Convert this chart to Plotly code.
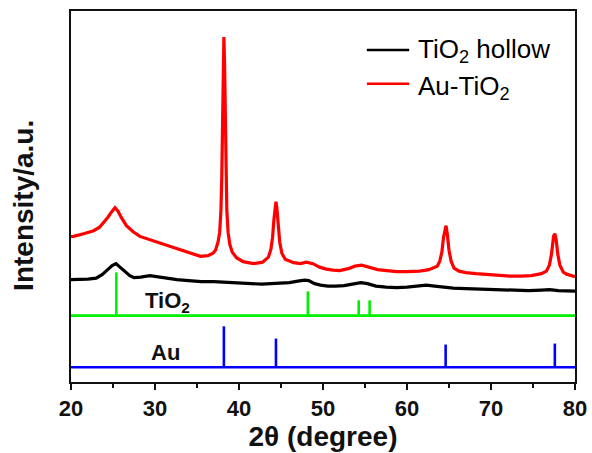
import plotly.graph_objects as go

# ---- measured patterns (2-theta in degrees, intensity in a.u.) ----
tio2_hollow_2theta = [20.0, 21.0, 22.0, 23.0, 23.7, 24.3, 24.9, 25.35, 25.8, 26.4, 27.0, 27.5,
                      28.3, 29.4, 30.5, 31.5, 32.6, 34.0, 35.5, 37.0, 38.5, 40.0, 41.5, 42.7,
                      43.8, 45.0, 46.0, 47.0, 47.8, 48.3, 49.0, 49.7, 50.6, 51.5, 52.5, 53.5,
                      54.5, 55.3, 56.3, 57.5, 58.8, 60.0, 61.2, 62.3, 63.3, 64.5, 65.5, 67.0,
                      68.5, 70.0, 71.5, 73.0, 74.5, 76.0, 77.0, 78.0, 79.0, 80.0]
tio2_hollow_int = [102.5, 102.5, 103.0, 104.0, 107.5, 112.0, 116.5, 118.5, 115.5, 110.5, 106.5, 104.5,
                   105.0, 106.5, 105.0, 103.5, 102.5, 101.5, 100.5, 100.5, 100.0, 99.0, 98.5, 98.0,
                   98.5, 99.0, 99.5, 101.0, 102.0, 101.5, 98.5, 97.0, 96.0, 96.0, 96.5, 98.0,
                   99.5, 98.5, 96.0, 95.0, 94.5, 95.0, 96.0, 97.0, 96.0, 94.5, 94.0, 93.5,
                   93.0, 92.5, 92.0, 92.0, 91.5, 92.0, 92.5, 91.5, 91.0, 91.0]

au_tio2_2theta = [20.0, 20.3, 21.5, 22.7, 23.4, 23.9, 24.4, 24.8, 25.24, 25.6, 26.0, 26.6, 27.4,
                  28.2, 29.2, 30.2, 31.4, 32.6, 34.0, 35.4, 36.3, 36.9, 37.2, 37.5, 37.7, 37.85,
                  37.95, 38.05, 38.12, 38.2, 38.28, 38.35, 38.45, 38.55, 38.7, 38.9, 39.2, 39.7,
                  40.5, 41.7, 42.8, 43.5, 43.8, 44.0, 44.15, 44.3, 44.4, 44.5, 44.65, 44.85, 45.1,
                  45.5, 46.5, 47.3, 48.0, 48.8, 49.6, 50.4, 51.2, 52.0, 53.0, 53.8, 54.6,
                  55.5, 56.5, 57.6, 58.8, 60.0, 61.5, 62.6, 63.3, 63.6, 63.9, 64.15, 64.35,
                  64.55, 64.65, 64.8, 65.0, 65.25, 65.6, 66.2, 67.0, 68.2, 69.5, 71.0, 72.3,
                  73.5, 74.8, 76.0, 76.6, 76.95, 77.2, 77.45, 77.6, 77.75, 77.95, 78.2, 78.6,
                  79.0, 79.5, 80.0]
au_tio2_int = [145.5, 145.8, 148.5, 151.5, 155.0, 159.5, 165.0, 170.0, 174.5, 171.0, 164.5, 156.5,
               150.5, 145.8, 143.0, 140.8, 137.5, 134.2, 129.5, 125.8, 126.5, 129.0, 132.0, 140.0,
               150.0, 172.0, 205.0, 265.0, 320.0, 345.5, 320.0, 265.0, 205.0, 172.0, 150.0, 138.0,
               130.0, 124.5, 120.5, 118.5, 120.0, 125.0, 133.0, 145.0, 162.0, 178.0, 180.5, 175.0,
               158.0, 140.0, 129.0, 123.0, 119.5, 118.5, 120.0, 118.5, 115.0, 113.0, 112.0, 111.5,
               113.5, 116.0, 117.0, 115.0, 112.5, 111.5, 110.5, 110.5, 111.0, 112.5, 114.5, 116.0,
               121.0, 130.0, 145.0, 156.0, 156.5, 148.0, 132.0, 121.0, 114.0, 111.0, 109.5, 108.5,
               107.5, 106.5, 106.0, 106.0, 106.5, 108.5, 111.0, 117.0, 128.0, 146.0, 148.5, 143.0,
               128.0, 117.0, 110.0, 108.0, 106.5, 105.5]

# ---- standard reference lines (stick positions and heights above their baselines) ----
tio2_ref_2theta = [25.4, 48.2, 54.25, 55.55]
tio2_ref_height = [43.3, 24.3, 15.3, 15.3]
tio2_ref_base = 66.5

au_ref_2theta = [38.2, 44.4, 64.6, 77.6]
au_ref_height = [41.0, 28.7, 22.7, 23.7]
au_ref_base = 14.8

x_range = [20, 80]
y_range = [0, 371.5]
x_ticks = [20, 30, 40, 50, 60, 70, 80]

FONT = "Liberation Sans, Arial, sans-serif"
INK = "#111111"

fig = go.Figure()


def stick_pattern(positions, heights, base, color):
    xs, ys = [x_range[0], x_range[1], None], [base, base, None]
    for p, h in zip(positions, heights):
        xs += [p, p, None]
        ys += [base, base + h, None]
    fig.add_trace(go.Scatter(x=xs, y=ys, mode="lines",
                             line=dict(color=color, width=2.6),
                             showlegend=False, hoverinfo="skip"))


stick_pattern(au_ref_2theta, au_ref_height, au_ref_base, "#0000ff")
stick_pattern(tio2_ref_2theta, tio2_ref_height, tio2_ref_base, "#00ee00")

fig.add_trace(go.Scatter(x=tio2_hollow_2theta, y=tio2_hollow_int, mode="lines",
                         line=dict(color="#000000", width=3.2), name="TiO<sub>2</sub> hollow",
                         showlegend=False))
fig.add_trace(go.Scatter(x=au_tio2_2theta, y=au_tio2_int, mode="lines",
                         line=dict(color="#ff0000", width=3.2), name="Au-TiO<sub>2</sub>",
                         showlegend=False))

# pattern labels
bold_label = dict(family=FONT, size=22, color=INK, weight="bold")
fig.add_annotation(x=31.5, y=tio2_ref_base + 14, text="TiO<sub>2</sub>", showarrow=False,
                   font=bold_label, xanchor="center", yanchor="middle")
fig.add_annotation(x=31.2, y=au_ref_base + 14.5, text="Au", showarrow=False,
                   font=bold_label, xanchor="center", yanchor="middle")

# legend drawn by hand
legend_rows = [("TiO<sub>2</sub> hollow", "#000000", 0.895, 0.893),
               ("Au-TiO<sub>2</sub>", "#ff0000", 0.804, 0.793)]
for label, color, y_line, y_text in legend_rows:
    fig.add_shape(type="line", xref="paper", yref="paper", x0=0.587, x1=0.671,
                  y0=y_line, y1=y_line, line=dict(color=color, width=2.5))
    fig.add_annotation(xref="paper", yref="paper", x=0.6845, y=y_text, text=label,
                       showarrow=False, xanchor="left", yanchor="middle",
                       font=dict(family=FONT, size=26, color="#000"))

# vertical axis title
fig.add_annotation(xref="paper", yref="paper", x=-0.093, y=0.475, text="Intensity/a.u.",
                   textangle=-90, showarrow=False, xanchor="center", yanchor="middle",
                   font=dict(family=FONT, size=28, color=INK, weight="bold"))

fig.update_layout(
    template="none",
    width=592, height=453,
    margin=dict(l=71, r=17, t=11, b=70.5, pad=0),
    paper_bgcolor="white", plot_bgcolor="white",
    font=dict(family=FONT, color=INK),
    xaxis=dict(range=x_range, tickvals=x_ticks, ticks="outside", ticklen=6, tickwidth=2,
               tickcolor=INK, showline=True, linewidth=2, linecolor=INK, mirror=True,
               showgrid=False, zeroline=False, automargin=False,
               minor=dict(dtick=5, ticks="outside", ticklen=4, tickwidth=2, tickcolor=INK,
                          showgrid=False),
               tickfont=dict(family=FONT, size=22, color=INK, weight="bold"),
               title=dict(text="2θ (degree)",
                          font=dict(family=FONT, size=28, color=INK, weight="bold"),
                          standoff=6)),
    yaxis=dict(range=y_range, showticklabels=False, ticks="", showline=True, linewidth=2,
               linecolor=INK, mirror=True, showgrid=False, zeroline=False, automargin=False),
)

fig.write_html("out.html")
